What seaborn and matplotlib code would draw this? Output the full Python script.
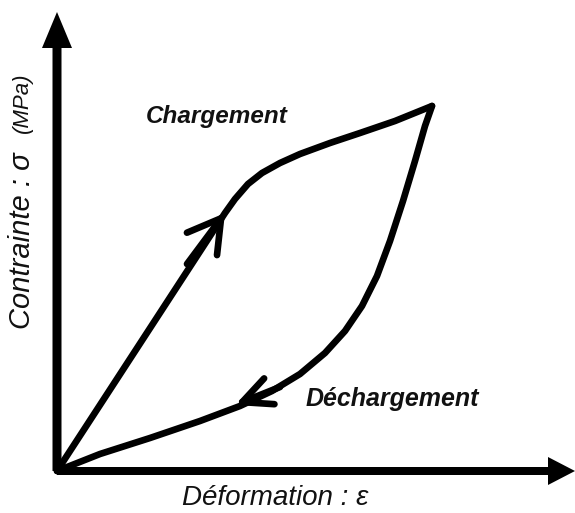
import matplotlib
matplotlib.use("Agg")
import matplotlib.pyplot as plt
import seaborn as sns

# curve points (strain, stress in drawing units)
loading_strain = [0, 168, 178, 191, 205, 223, 243, 273, 303, 338, 375]
loading_stress = [0, 258, 272, 287, 298, 308, 317, 328, 338, 350, 365]
unloading_strain = [375, 368, 358, 346, 333, 320, 305, 288, 268, 243, 215, 183, 143, 93, 43, 0]
unloading_stress = [365, 345, 310, 270, 230, 195, 165, 140, 118, 97, 80, 65, 50, 33, 17, 0]

label_load = "Chargement"
label_unload = "Déchargement"
xlabel = "Déformation : ε"
ylabel = "Contrainte : σ"
ylabel_unit = "(MPa)"

sns.set_theme(style="white")
plt.rcParams['font.family'] = ['Liberation Sans', 'DejaVu Sans']

fig = plt.figure(figsize=(5.75, 5.13), dpi=100)
ax = fig.add_axes([0, 0, 1, 1])
ax.set_xlim(-57, 518)
ax.set_ylim(-42, 471)
ax.set_axis_off()

# axes with filled arrow heads
ax.arrow(0, 0, 0, 459, width=9, head_width=30, head_length=36,
         length_includes_head=True, color='black', lw=0)
ax.arrow(0, 0, 518, 0, width=8, head_width=28, head_length=27,
         length_includes_head=True, color='black', lw=0)

# loading / unloading curves
sns.lineplot(x=loading_strain, y=loading_stress, sort=False, estimator=None,
             color='black', lw=4.8, ax=ax, solid_capstyle='round')
sns.lineplot(x=unloading_strain, y=unloading_stress, sort=False, estimator=None,
             color='black', lw=4.8, ax=ax, solid_capstyle='round')

# open arrow heads on the curves
ax.annotate('', xy=(loading_strain[1], loading_stress[1]),
            xytext=(loading_strain[1] - 38, loading_stress[1] - 51),
            arrowprops=dict(arrowstyle='->,head_length=2.3,head_width=1.35',
                            lw=4.8, color='black', shrinkA=0, shrinkB=0,
                            mutation_scale=10))
ax.annotate('', xy=(178, 66), xytext=(223, 84),
            arrowprops=dict(arrowstyle='->,head_length=2.1,head_width=1.0',
                            lw=4.8, color='black', shrinkA=0, shrinkB=0,
                            mutation_scale=10))

ax.text(160, 355, label_load, fontsize=17.5, fontweight='bold', style='italic',
        ha='center', va='center', color='#111111')
ax.text(335, 72, label_unload, fontsize=18, fontweight='bold', style='italic',
        ha='center', va='center', color='#111111')
ax.text(218, -27, xlabel, fontsize=20, style='italic', ha='center',
        va='center', color='#111111')
ax.text(-35, 142, ylabel, fontsize=21, style='italic', ha='center',
        va='bottom', rotation=90, color='#111111')
ax.text(-35, 338, ylabel_unit, fontsize=16, style='italic', ha='center',
        va='bottom', rotation=90, color='#111111')

fig.savefig("out.png", dpi=100)
